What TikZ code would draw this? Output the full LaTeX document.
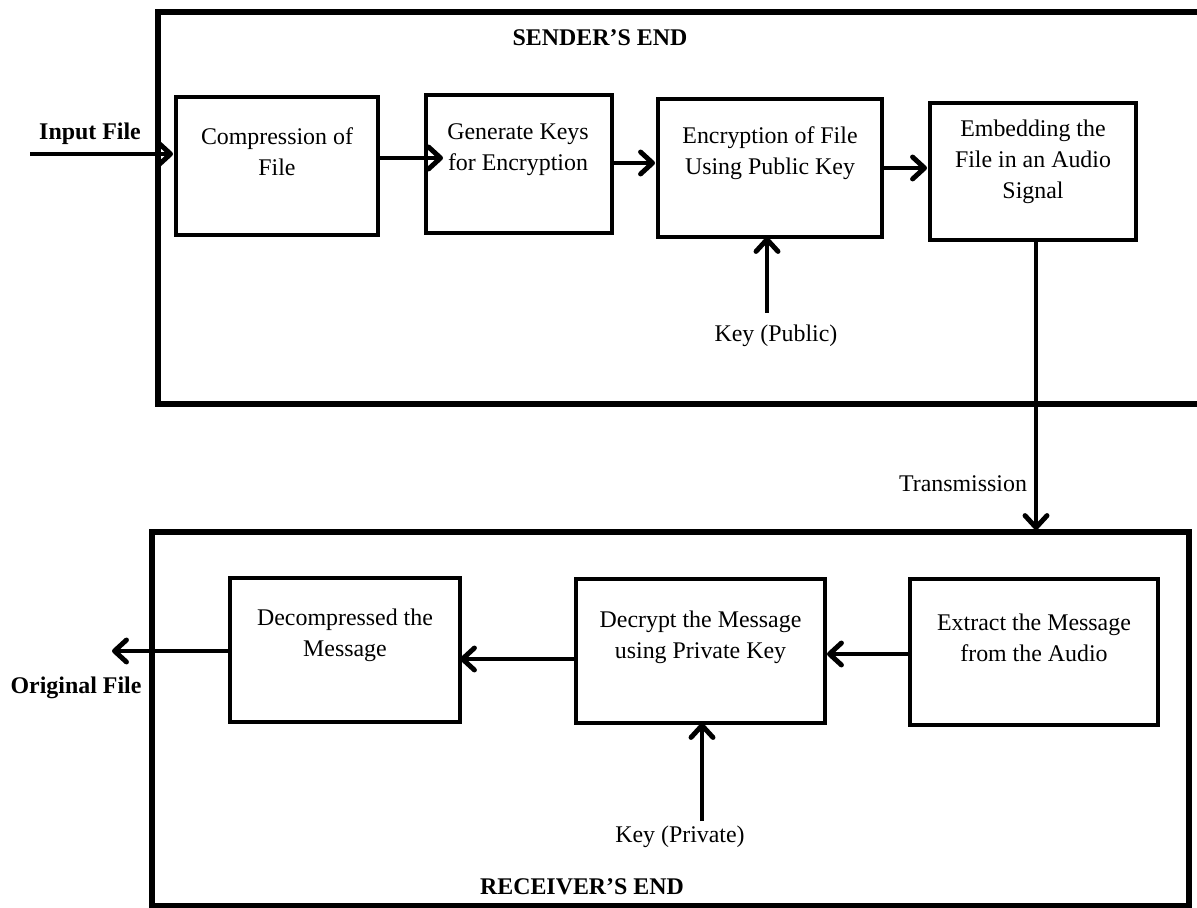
\documentclass[tikz,border=0pt]{standalone}
\usepackage{fontspec}
\setmainfont{Liberation Serif}
\usetikzlibrary{arrows.meta,calc}
\begin{document}
\begin{tikzpicture}[x=0.02cm,y=-0.02cm,
  font=\fontsize{13.6}{17.6}\selectfont,
  frame/.style={draw, line width=3pt, inner sep=0pt, outer sep=0pt},
  box/.style={draw, line width=2.7pt, inner sep=0pt, outer sep=0pt},
  txt/.style={align=center, inner sep=0pt},
  bold/.style={font=\fontsize{13.6}{17.6}\selectfont\bfseries, inner sep=0pt},
  arr/.style={line width=2.8pt, -{Straight Barb[length=0.24cm,width=0.44cm,line cap=round,round]}}]
\clip (0,0) rectangle (1197,908);
% frames
\node[frame, minimum width=21.14cm, minimum height=7.84cm] (send) at (686.5,208) {};
\node[frame, minimum width=20.74cm, minimum height=7.48cm] (recv) at (670.5,719) {};
\node[bold] (sendt) at (600,38) {SENDER’S END};
\node[bold] (recvt) at (582,887) {RECEIVER’S END};
% sender boxes
\node[box, minimum width=4.04cm, minimum height=2.76cm] (b1) at (277,166) {};
\node[txt] (b1t) at (277,151.5) {Compression of\\File};
\node[box, minimum width=3.72cm, minimum height=2.76cm] (b2) at (519,164) {};
\node[txt] (b2t) at (518,149.5) {Generate Keys\\for Encryption};
\node[box, minimum width=4.48cm, minimum height=2.76cm] (b3) at (770,168) {};
\node[txt] (b3t) at (770,153.5) {Encryption of File\\Using Public Key};
\node[box, minimum width=4.12cm, minimum height=2.74cm] (b4) at (1033,171.5) {};
\node[txt] (b4t) at (1033,161.5) {Embedding the\\File in an Audio\\Signal};
% receiver boxes
\node[box, minimum width=4.6cm, minimum height=2.88cm] (r1) at (345,650) {};
\node[txt] (r1t) at (345,635.5) {Decompressed the\\Message};
\node[box, minimum width=4.98cm, minimum height=2.88cm] (r2) at (700.5,651) {};
\node[txt] (r2t) at (700.5,637) {Decrypt the Message\\using Private Key};
\node[box, minimum width=4.96cm, minimum height=2.92cm] (r3) at (1034,652) {};
\node[txt] (r3t) at (1034,637.5) {Extract the Message\\from the Audio};
% labels
\node[bold] (inl) at (90,134) {Input File};
\node[bold] (outl) at (76,688) {Original File};
\node[txt] (kpub) at (776,336) {Key (Public)};
\node[txt] (kpri) at (680,837) {Key (Private)};
\node[txt] (trl) at (963,484) {Transmission};
% free ends
\coordinate (inp) at (30,154);
\coordinate (outp) at (112,651);
\coordinate (kpt) at (767,313);
\coordinate (kpr) at (702,821);
\coordinate (tx) at ($(b4.south)+(3,0)$);
% connectors
\draw[arr] (inp) -- ($(inp -| b1.west)+(-3,0)$);
\draw[arr] ($(b1.east)+(0,-8)$) -- ($(b2.west)+(17,-6)$);
\draw[arr] ($(b2.east)+(0,-1)$) -- ($(b3.west)+(-3,-5)$);
\draw[arr] (b3.east) -- ($(b4.west)+(-3,-3.5)$);
\draw[arr] (kpt) -- (kpt |- b3.south);
\draw[arr] (tx) -- ($(tx |- recv.north)+(0,-2)$);
\draw[arr] ($(r3.west)+(0,2)$) -- ($(r2.east)+(2,3)$);
\draw[arr] ($(r2.west)+(0,8)$) -- ($(r1.east)+(0,9)$);
\draw[arr] ($(r1.west)+(0,1)$) -- (outp);
\draw[arr] (kpr) -- (kpr |- r2.south);
\end{tikzpicture}
\end{document}
